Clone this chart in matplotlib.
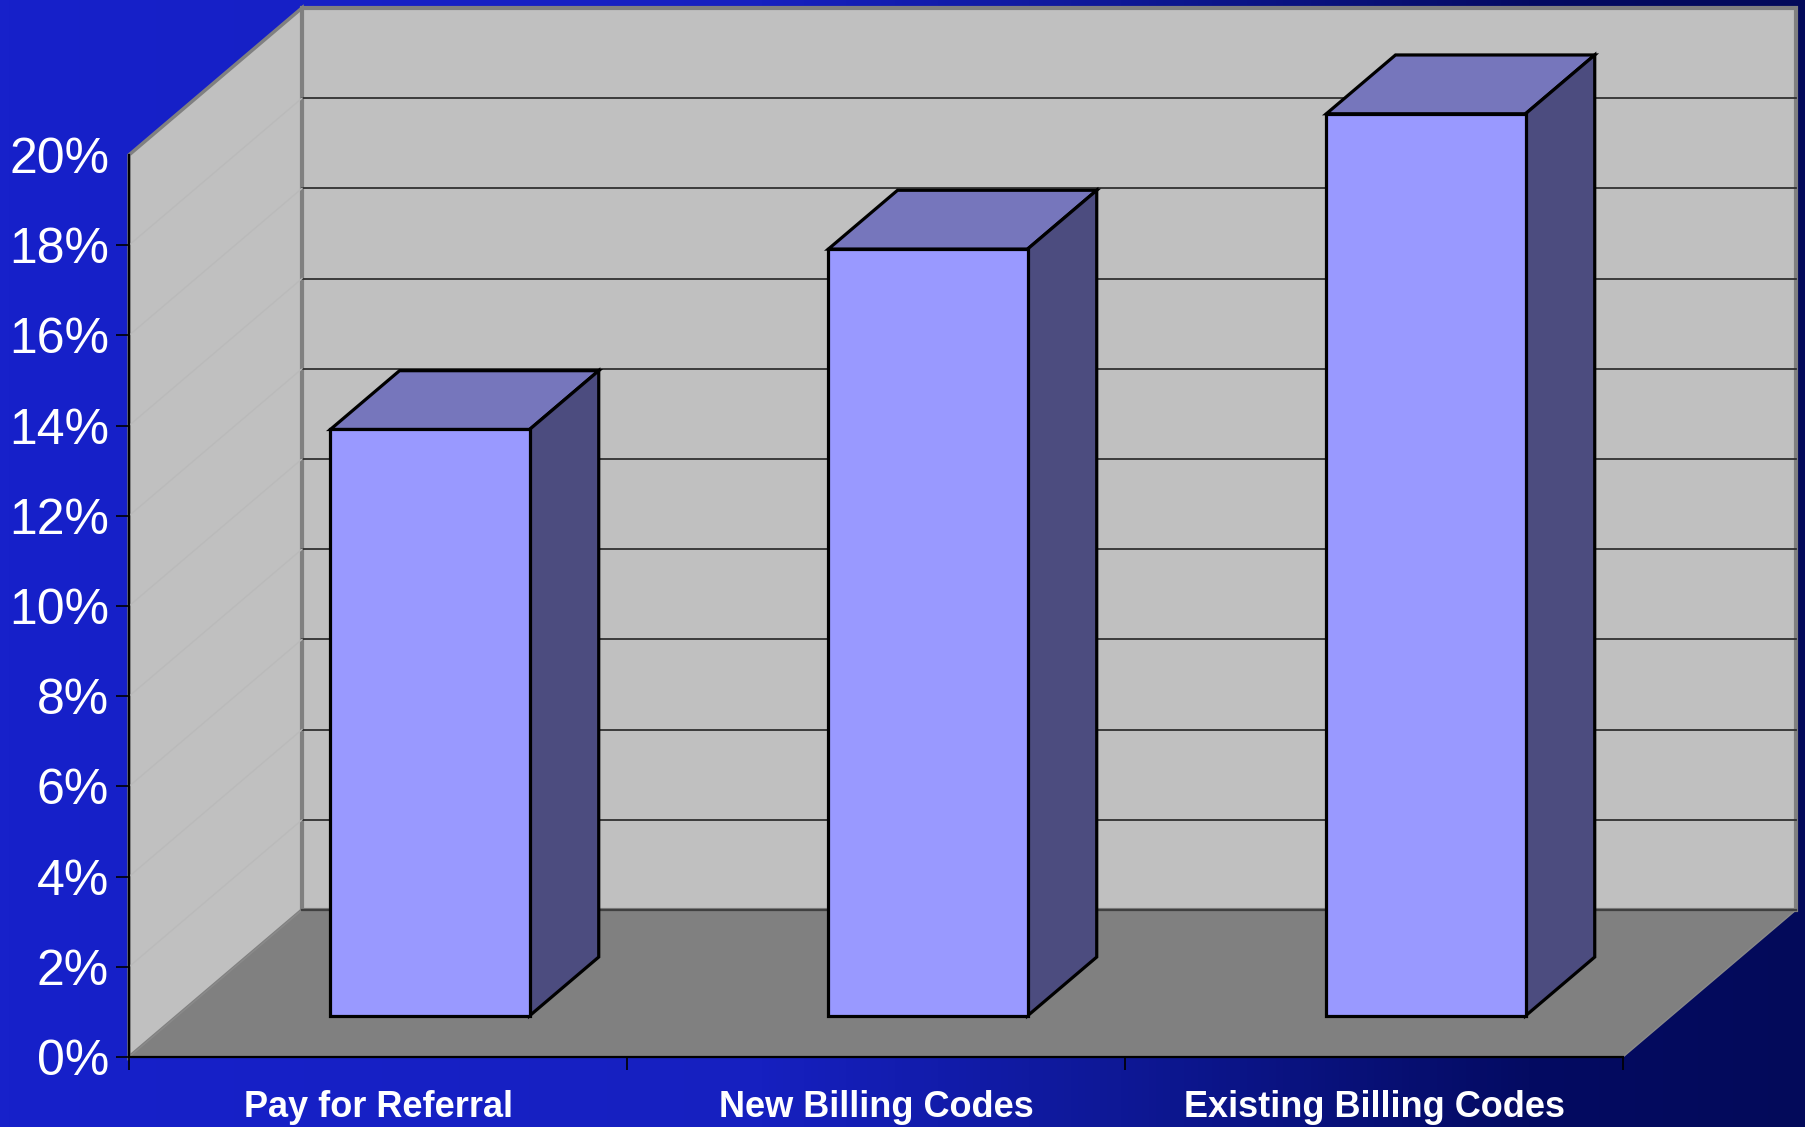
import numpy as np
import matplotlib
matplotlib.use("Agg")
import matplotlib.pyplot as plt
from matplotlib.patches import Polygon
from matplotlib.colors import LinearSegmentedColormap

# ---- data -------------------------------------------------------------
categories = ["Pay for Referral", "New Billing Codes", "Existing Billing Codes"]
shares = [13, 17, 20]                       # percent
y_ticks = [0, 2, 4, 6, 8, 10, 12, 14, 16, 18, 20]
y_tick_labels = [f"{v}%" for v in y_ticks]

# ---- 3-D look: oblique projection of (x, y, depth) into data space -----
DEPTH_DX = 0.3474     # x shift (category units) for full depth
DEPTH_DY = 3.26       # y shift (percent units) for full depth
BAR_WIDTH = 0.40
BAR_OFFSET = 0.507    # bar centre within its category slot
BAR_Z0, BAR_Z1 = 0.28, 0.68


def proj(x, y, z):
    return (x + z * DEPTH_DX, y + z * DEPTH_DY)


plt.rcParams["font.family"] = ["Liberation Sans", "DejaVu Sans"]

fig = plt.figure(figsize=(18.05, 11.27), dpi=100)

# background gradient
bg = fig.add_axes([0, 0, 1, 1], zorder=0)
bg.set_axis_off()
bg_cmap = LinearSegmentedColormap.from_list(
    "slide_bg",
    [(0.0, "#1721CA"), (0.42, "#1620C0"), (0.62, "#0E1896"),
     (0.85, "#040B62"), (1.0, "#030A5A")])
bg.imshow(np.linspace(0, 1, 600)[None, :], aspect="auto", cmap=bg_cmap,
          extent=[0, 1, 0, 1], interpolation="bilinear")
bg.set_xlim(0, 1)
bg.set_ylim(0, 1)

ax = fig.add_axes([0.07147, 0.06211, 0.8277, 0.8004], zorder=1)
ax.patch.set_visible(False)
ax.set_xlim(0, len(categories))
ax.set_ylim(y_ticks[0], y_ticks[-1])

n = len(categories)
top = y_ticks[-1]

# walls and floor
side_wall = Polygon([proj(0, 0, 0), proj(0, top, 0), proj(0, top, 1), proj(0, 0, 1)],
                    closed=True, fc="#C0C0C0", ec="#808080", lw=2.5,
                    clip_on=False, zorder=1)
back_wall = Polygon([proj(0, 0, 1), proj(n, 0, 1), proj(n, top, 1), proj(0, top, 1)],
                    closed=True, fc="#C0C0C0", ec="#808080", lw=3,
                    clip_on=False, zorder=1)
floor = Polygon([proj(0, 0, 0), proj(n, 0, 0), proj(n, 0, 1), proj(0, 0, 1)],
                closed=True, fc="#808080", ec="#8A8A8A", lw=1,
                clip_on=False, zorder=1.5)
for p in (side_wall, back_wall, floor):
    ax.add_patch(p)

# back edge of the floor
bx = [proj(0, 0, 1)[0], proj(n, 0, 1)[0]]
by = [proj(0, 0, 1)[1], proj(n, 0, 1)[1]]
ax.plot(bx, by, color="#404040", lw=1.6, clip_on=False, zorder=2)

# gridlines: dark on the back wall, faint on the side wall
for v in y_ticks[1:-1]:
    a, b = proj(0, v, 1), proj(n, v, 1)
    ax.plot([a[0], b[0]], [a[1], b[1]], color="#303030", lw=1.3,
            clip_on=False, zorder=2)
    c = proj(0, v, 0)
    ax.plot([c[0], a[0]], [c[1], a[1]], color="#BABABA", lw=1.0,
            clip_on=False, zorder=2)

# bars
face_col, top_col, side_col = "#9999FF", "#7676BC", "#4C4C7F"
for i, v in enumerate(shares):
    x0 = i + BAR_OFFSET - BAR_WIDTH / 2
    x1 = i + BAR_OFFSET + BAR_WIDTH / 2
    z0, z1 = BAR_Z0, BAR_Z1
    faces = [
        ([proj(x0, v, z0), proj(x1, v, z0), proj(x1, v, z1), proj(x0, v, z1)], top_col),
        ([proj(x1, 0, z0), proj(x1, 0, z1), proj(x1, v, z1), proj(x1, v, z0)], side_col),
        ([proj(x0, 0, z0), proj(x1, 0, z0), proj(x1, v, z0), proj(x0, v, z0)], face_col),
    ]
    for pts, col in faces:
        ax.add_patch(Polygon(pts, closed=True, fc=col, ec="black", lw=2.3,
                             joinstyle="miter", clip_on=False, zorder=3))

# axes frame
for s in ("top", "right"):
    ax.spines[s].set_visible(False)
for s in ("left", "bottom"):
    ax.spines[s].set_color("black")
    ax.spines[s].set_linewidth(1.6)
    ax.spines[s].set_zorder(4)

ax.set_yticks(y_ticks, y_tick_labels)
ax.tick_params(axis="y", direction="out", length=9.4, width=1.2, color="black",
               labelcolor="white", labelsize=36, pad=5)
ax.yaxis.get_major_ticks()[-1].tick1line.set_visible(False)

ax.set_xticks(range(n + 1), [""] * (n + 1))
ax.tick_params(axis="x", which="major", direction="out", length=9.4, width=1.2,
               color="black")
ax.set_xticks([i + 0.5 for i in range(n)], categories, minor=True)
ax.tick_params(axis="x", which="minor", length=0, pad=24,
               labelcolor="white", labelsize=26)
for lbl in ax.get_xticklabels(minor=True):
    lbl.set_fontweight("bold")

fig.savefig("out.png", dpi=100)
